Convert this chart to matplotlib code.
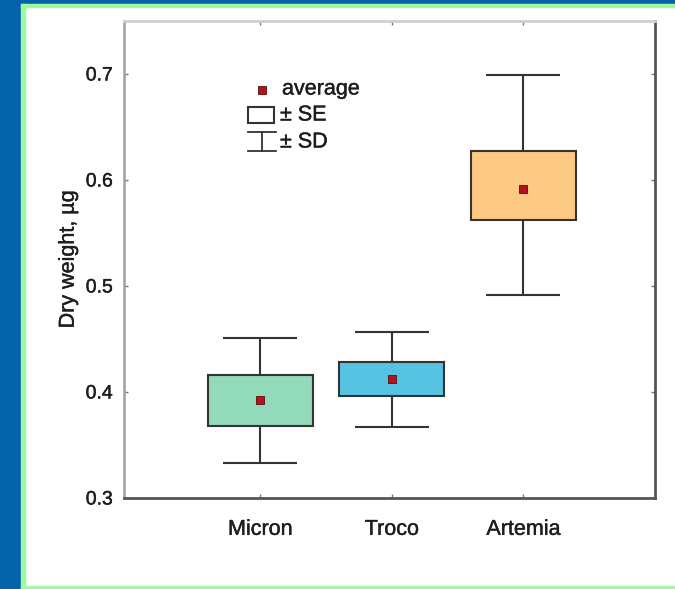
import matplotlib
matplotlib.use("Agg")
import matplotlib.pyplot as plt
from matplotlib.patches import Rectangle
from matplotlib.lines import Line2D
import matplotlib.patheffects as pe

plt.rcParams['font.family'] = ['Liberation Sans', 'DejaVu Sans']

categories = ["Micron", "Troco", "Artemia"]
means = [0.392, 0.412, 0.5915]
se_low = [0.368, 0.396, 0.562]
se_high = [0.416, 0.428, 0.627]
sd_low = [0.333, 0.367, 0.4915]
sd_high = [0.451, 0.457, 0.699]
box_colors = ["#92dab9", "#56c3e2", "#fcc983"]
yticks = [0.3, 0.4, 0.5, 0.6, 0.7]

W, H = 675, 589
fig = plt.figure(figsize=(W / 100, H / 100), dpi=100)
fig.patch.set_facecolor("white")

# decorative frame
blue = "#0563ac"
green = "#9dfb9d"
fig.patches.append(Rectangle((0, 0), 21 / W, 1, transform=fig.transFigure, color=blue, zorder=0))
fig.patches.append(Rectangle((0, 1 - 4 / H), 1, 4 / H, transform=fig.transFigure, color=blue, zorder=0))
fig.patches.append(Rectangle((21 / W, 0), 4 / W, 1 - 4 / H, transform=fig.transFigure, color=green, zorder=0))
fig.patches.append(Rectangle((21 / W, 1 - 7 / H), 1, 3 / H, transform=fig.transFigure, color=green, zorder=0))
fig.patches.append(Rectangle((21 / W, 0), 1, 3 / H, transform=fig.transFigure, color=green, zorder=0))

ax_l, ax_r, ax_t, ax_b = 124, 655, 21, 498
ax = fig.add_axes([ax_l / W, 1 - ax_b / H, (ax_r - ax_l) / W, (ax_b - ax_t) / H])
ax.set_facecolor("white")

txt_color = "#1e1e1e"
thick = [pe.withStroke(linewidth=0.3, foreground=txt_color)]

x = [1, 2, 3]
edge = "#333333"
yerr = [[m - lo for m, lo in zip(means, sd_low)], [hi - m for m, hi in zip(means, sd_high)]]
ax.errorbar(x, means, yerr=yerr, fmt="none", ecolor=edge, elinewidth=1.5,
            capsize=26.5, capthick=1.5, zorder=1)
ax.bar(x, [hi - lo for lo, hi in zip(se_low, se_high)], bottom=se_low, width=0.8,
       color=box_colors, edgecolor=edge, linewidth=1.5, zorder=2)
ax.plot(x, means, linestyle="none", marker="s", markersize=5.5,
        markerfacecolor="#b3121f", markeredgecolor="#5a0a0a", markeredgewidth=0.6, zorder=3)

ax.set_xlim(-0.035, 4.0)
ax.set_ylim(0.3, 0.75)
ax.set_xticks(x)
ax.set_xticklabels(categories)
ax.set_yticks(yticks)
ax.set_yticklabels([f"{v:.1f}" for v in yticks])
ax.tick_params(direction="in", length=3, width=1, color="#777777",
               top=True, right=True, labelcolor=txt_color)
ax.tick_params(axis="x", pad=15, labelsize=15.5)
ax.tick_params(axis="y", pad=8, labelsize=14)
for lab in ax.get_xticklabels() + ax.get_yticklabels():
    lab.set_path_effects(thick)
ax.set_ylabel("Dry weight, µg", fontsize=15.5, color=txt_color, labelpad=5,
              path_effects=thick)

ax.spines["left"].set_color("#a8a8a8")
ax.spines["top"].set_color("#cfcfcf")
ax.spines["right"].set_color("#555555")
ax.spines["bottom"].set_color("#555555")
for s in ax.spines.values():
    s.set_linewidth(2)

# legend drawn manually in axes fraction coordinates
def fx(px):
    return (px - ax_l) / (ax_r - ax_l)

def fy(py):
    return (ax_b - py) / (ax_b - ax_t)

tr = ax.transAxes
ax.add_line(Line2D([fx(262)], [fy(90)], transform=tr, marker="s", markersize=5.5,
                   markerfacecolor="#b3121f", markeredgecolor="#5a0a0a", markeredgewidth=0.6))
ax.text(fx(282), fy(89), "average", transform=tr, va="center", ha="left", fontsize=15.5,
        color=txt_color, path_effects=thick)
ax.add_patch(Rectangle((fx(248), fy(123)), fx(274) - fx(248), fy(107) - fy(123), transform=tr,
                       facecolor="white", edgecolor=edge, linewidth=1.5))
ax.text(fx(280), fy(115), "± SE", transform=tr, va="center", ha="left", fontsize=15.5,
        color=txt_color, path_effects=thick)
ax.add_line(Line2D([fx(248), fx(276)], [fy(132), fy(132)], transform=tr, color=edge, lw=1.3))
ax.add_line(Line2D([fx(248), fx(276)], [fy(151), fy(151)], transform=tr, color=edge, lw=1.3))
ax.add_line(Line2D([fx(262), fx(262)], [fy(132), fy(151)], transform=tr, color=edge, lw=1.3))
ax.text(fx(280), fy(142), "± SD", transform=tr, va="center", ha="left", fontsize=15.5,
        color=txt_color, path_effects=thick)

fig.savefig("out.png", dpi=100, facecolor=fig.get_facecolor())
